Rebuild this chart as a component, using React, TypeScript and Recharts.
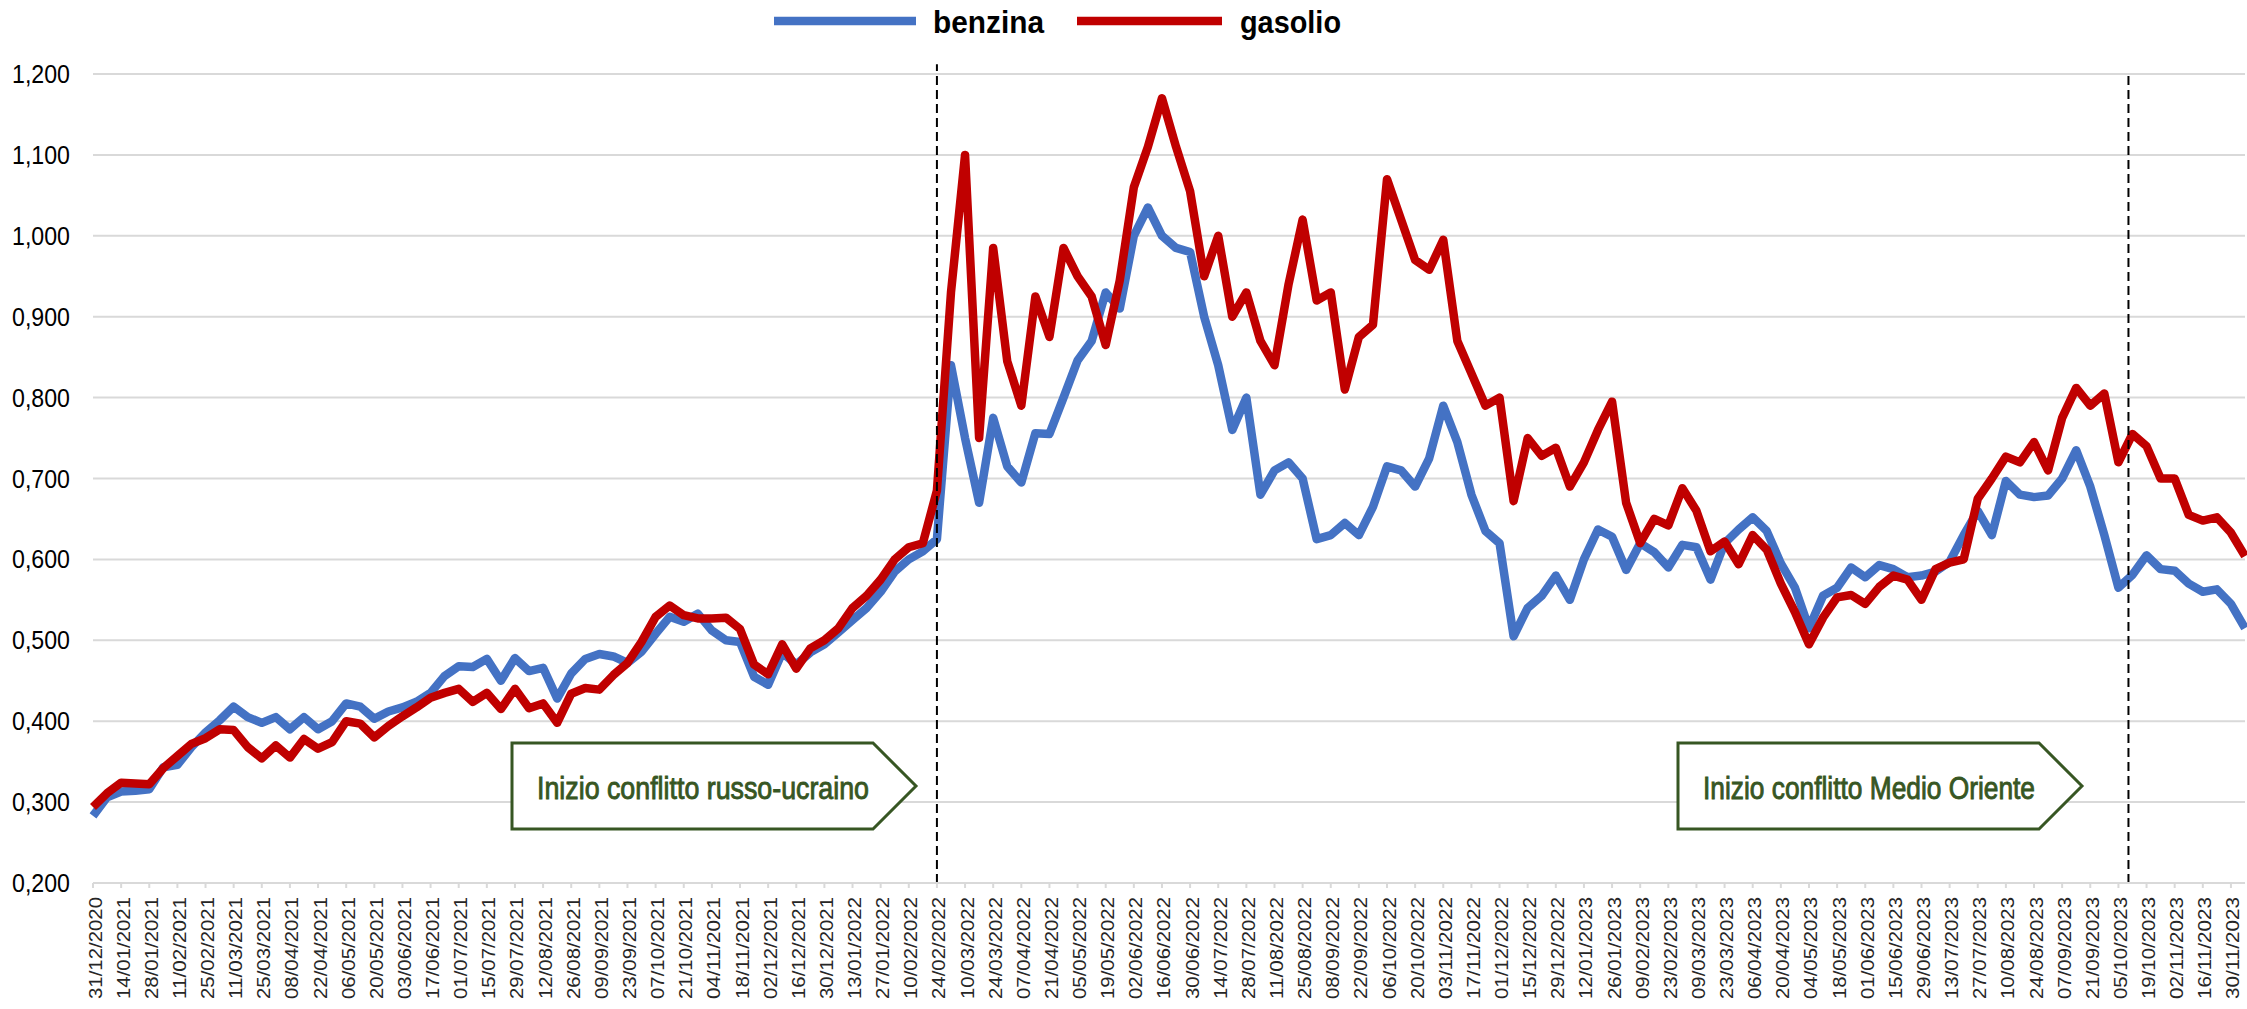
import React from "react";
import { CartesianGrid, Line, LineChart, ReferenceLine, XAxis, YAxis } from "recharts";

// una rilevazione ogni 7 giorni a partire dal 31/12/2020
const STEP_DAYS = 7;
const TICK_STEP_DAYS = 14;

const TICK_LABELS = [
  "31/12/2020", "14/01/2021", "28/01/2021", "11/02/2021", "25/02/2021", "11/03/2021", "25/03/2021",
  "08/04/2021", "22/04/2021", "06/05/2021", "20/05/2021", "03/06/2021", "17/06/2021", "01/07/2021",
  "15/07/2021", "29/07/2021", "12/08/2021", "26/08/2021", "09/09/2021", "23/09/2021", "07/10/2021",
  "21/10/2021", "04/11/2021", "18/11/2021", "02/12/2021", "16/12/2021", "30/12/2021", "13/01/2022",
  "27/01/2022", "10/02/2022", "24/02/2022", "10/03/2022", "24/03/2022", "07/04/2022", "21/04/2022",
  "05/05/2022", "19/05/2022", "02/06/2022", "16/06/2022", "30/06/2022", "14/07/2022", "28/07/2022",
  "11/08/2022", "25/08/2022", "08/09/2022", "22/09/2022", "06/10/2022", "20/10/2022", "03/11/2022",
  "17/11/2022", "01/12/2022", "15/12/2022", "29/12/2022", "12/01/2023", "26/01/2023", "09/02/2023",
  "23/02/2023", "09/03/2023", "23/03/2023", "06/04/2023", "20/04/2023", "04/05/2023", "18/05/2023",
  "01/06/2023", "15/06/2023", "29/06/2023", "13/07/2023", "27/07/2023", "10/08/2023", "24/08/2023",
  "07/09/2023", "21/09/2023", "05/10/2023", "19/10/2023", "02/11/2023", "16/11/2023", "30/11/2023",
];

const Y_TICKS = [0.2, 0.3, 0.4, 0.5, 0.6, 0.7, 0.8, 0.9, 1.0, 1.1, 1.2];

const BENZINA = [
  0.283, 0.306, 0.313, 0.314, 0.316, 0.343, 0.346, 0.368, 0.386, 0.401,
  0.418, 0.405, 0.398, 0.405, 0.39, 0.405, 0.39, 0.4, 0.422, 0.418,
  0.403, 0.412, 0.417, 0.424, 0.435, 0.456, 0.468, 0.467, 0.477, 0.45,
  0.478, 0.462, 0.466, 0.428, 0.459, 0.477, 0.483, 0.48, 0.472, 0.486,
  0.508, 0.529, 0.523, 0.533, 0.512, 0.5, 0.498, 0.455, 0.445, 0.485,
  0.47, 0.485, 0.495, 0.51, 0.525, 0.54, 0.56, 0.585, 0.6, 0.61,
  0.625, 0.84, 0.75, 0.67, 0.775, 0.715, 0.695, 0.756, 0.755, 0.8,
  0.846, 0.87, 0.93, 0.91, 1.0, 1.035, 1.0, 0.985, 0.98, 0.9,
  0.84, 0.76, 0.8, 0.68, 0.71, 0.72, 0.7, 0.625, 0.63, 0.645,
  0.63, 0.665, 0.715, 0.71, 0.69, 0.725, 0.79, 0.745, 0.68, 0.635,
  0.62, 0.505, 0.54, 0.555, 0.58, 0.55, 0.6, 0.637, 0.628, 0.587,
  0.62, 0.609, 0.59, 0.618, 0.615, 0.575, 0.62, 0.637, 0.652, 0.635,
  0.595, 0.565, 0.515, 0.555, 0.565, 0.59, 0.578, 0.593, 0.588, 0.578,
  0.58, 0.585, 0.597, 0.63, 0.66, 0.63, 0.697, 0.68, 0.677, 0.679,
  0.7, 0.735, 0.69, 0.63, 0.565, 0.581, 0.605, 0.588, 0.586, 0.57,
  0.56, 0.563, 0.545, 0.515,
];

const GASOLIO = [
  0.294, 0.311, 0.324, 0.323, 0.322, 0.342, 0.357, 0.372, 0.379, 0.39,
  0.389, 0.368, 0.354, 0.37, 0.355, 0.378, 0.366, 0.374, 0.4, 0.397,
  0.38, 0.394, 0.406, 0.417, 0.429, 0.435, 0.44, 0.424, 0.435, 0.415,
  0.44, 0.416, 0.422, 0.398, 0.434, 0.441, 0.439, 0.457, 0.472, 0.498,
  0.529, 0.543, 0.531, 0.527, 0.527, 0.528, 0.514, 0.47, 0.458, 0.495,
  0.465, 0.49, 0.5, 0.515, 0.54, 0.555, 0.575, 0.6, 0.615, 0.62,
  0.685, 0.93, 1.1, 0.75, 0.985, 0.845, 0.79, 0.925, 0.875, 0.985,
  0.95, 0.925, 0.865, 0.945, 1.06, 1.11, 1.17, 1.11, 1.055, 0.95,
  1.0, 0.9, 0.93, 0.87, 0.84, 0.94, 1.02, 0.92, 0.93, 0.81,
  0.875, 0.89, 1.07, 1.02, 0.97, 0.958, 0.995, 0.87, 0.83, 0.79,
  0.8, 0.672, 0.75, 0.728, 0.738, 0.69, 0.72, 0.76, 0.795, 0.67,
  0.62, 0.65, 0.642, 0.688, 0.66, 0.61, 0.622, 0.594, 0.63, 0.612,
  0.57, 0.535, 0.495, 0.528, 0.553, 0.556, 0.545, 0.566, 0.58, 0.575,
  0.55, 0.588, 0.596, 0.6, 0.675, 0.7, 0.727, 0.72, 0.745, 0.71,
  0.775, 0.812, 0.79, 0.805, 0.72, 0.755, 0.74, 0.7, 0.7, 0.655,
  0.648, 0.652, 0.633, 0.604,
];

// giorni dal 31/12/2020: 24/02/2022 e 10/10/2023
const EVENT_DAYS = [420, 1013];
const EVENT_TOPS = [1.212, 1.2];

const data = BENZINA.map((b, i) => ({
  day: i * STEP_DAYS,
  benzina: b,
  gasolio: GASOLIO[i],
}));

const xTicks = TICK_LABELS.map((_, k) => k * TICK_STEP_DAYS);
const lastDay = (BENZINA.length - 1) * STEP_DAYS;

const FONT = '"Liberation Sans", Arial, sans-serif';
const BLUE = "#4472C4";
const RED = "#C00000";
const GRID = "#D9D9D9";
const GREEN = "#375623";

const XTick = (props: any) => {
  const { x, y, payload } = props;
  const label = TICK_LABELS[Math.round(payload.value / TICK_STEP_DAYS)];
  return (
    <text
      transform={`translate(${x + 2},${y + 7}) rotate(-90)`}
      textAnchor="end"
      dominantBaseline="central"
      fontFamily={FONT}
      fontSize={19}
      fill="#262626"
      textLength={102}
      lengthAdjust="spacingAndGlyphs"
    >
      {label}
    </text>
  );
};

const YTick = (props: any) => {
  const { x, y, payload } = props;
  return (
    <text
      x={x}
      y={y}
      textAnchor="end"
      dominantBaseline="central"
      fontFamily={FONT}
      fontSize={25}
      fill="#000"
      textLength={58}
      lengthAdjust="spacingAndGlyphs"
    >
      {Number(payload.value).toFixed(3).replace(".", ",")}
    </text>
  );
};

// box a freccia con il testo dell'evento
const EventBox = ({ x, text }: { x: number; text: string }) => {
  const top = 743;
  const bottom = 829;
  const w = 361;
  const tip = 43;
  const mid = (top + bottom) / 2;
  return (
    <g>
      <polygon
        points={`${x},${top} ${x + w},${top} ${x + w + tip},${mid} ${x + w},${bottom} ${x},${bottom}`}
        fill="#fff"
        stroke={GREEN}
        strokeWidth={3}
      />
      <text
        x={x + 25}
        y={799}
        fontFamily={FONT}
        fontSize={31}
        fill={GREEN}
        stroke={GREEN}
        strokeWidth={0.9}
        textLength={332}
        lengthAdjust="spacingAndGlyphs"
      >
        {text}
      </text>
    </g>
  );
};

export default function App() {
  return (
    <div
      style={{
        position: "absolute",
        left: 0,
        top: 0,
        width: 2247,
        height: 1009,
        background: "#fff",
        overflow: "hidden",
      }}
    >
      <LineChart
        width={2247}
        height={1009}
        data={data}
        margin={{ top: 74, right: 2, bottom: 0, left: 0 }}
      >
        <CartesianGrid vertical={false} stroke={GRID} strokeWidth={2} />
        <XAxis
          type="number"
          dataKey="day"
          domain={[0, lastDay]}
          ticks={xTicks}
          interval={0}
          tick={<XTick />}
          tickSize={5}
          tickMargin={2}
          height={126}
          axisLine={{ stroke: GRID, strokeWidth: 2 }}
          tickLine={{ stroke: GRID, strokeWidth: 2 }}
        />
        <YAxis
          type="number"
          domain={[0.2, 1.2]}
          ticks={Y_TICKS}
          interval={0}
          width={93}
          axisLine={false}
          tickLine={false}
          tickSize={0}
          tickMargin={23}
          tick={<YTick />}
        />
        <Line
          type="linear"
          dataKey="benzina"
          stroke={BLUE}
          strokeWidth={8.5}
          strokeLinejoin="round"
          dot={false}
          isAnimationActive={false}
        />
        <Line
          type="linear"
          dataKey="gasolio"
          stroke={RED}
          strokeWidth={8.5}
          strokeLinejoin="round"
          dot={false}
          isAnimationActive={false}
        />
        {EVENT_DAYS.map((d, i) => (
          <ReferenceLine
            key={d}
            segment={[
              { x: d, y: 0.2 },
              { x: d, y: EVENT_TOPS[i] },
            ]}
            stroke="#000"
            strokeWidth={2}
            strokeDasharray="9 5"
            ifOverflow="visible"
          />
        ))}
      </LineChart>

      {/* legenda e riquadri degli eventi */}
      <svg
        width={2247}
        height={1009}
        style={{ position: "absolute", left: 0, top: 0, pointerEvents: "none" }}
      >
        <line x1={774} x2={916} y1={21} y2={21} stroke={BLUE} strokeWidth={8.5} />
        <text
          x={933}
          y={33}
          fontFamily={FONT}
          fontSize={32}
          fontWeight="bold"
          fill="#000"
          textLength={111}
          lengthAdjust="spacingAndGlyphs"
        >
          benzina
        </text>
        <line x1={1077} x2={1222} y1={21} y2={21} stroke={RED} strokeWidth={8.5} />
        <text
          x={1240}
          y={33}
          fontFamily={FONT}
          fontSize={32}
          fontWeight="bold"
          fill="#000"
          textLength={101}
          lengthAdjust="spacingAndGlyphs"
        >
          gasolio
        </text>
        <EventBox x={512} text="Inizio conflitto russo-ucraino" />
        <EventBox x={1678} text="Inizio conflitto Medio Oriente" />
      </svg>
    </div>
  );
}
